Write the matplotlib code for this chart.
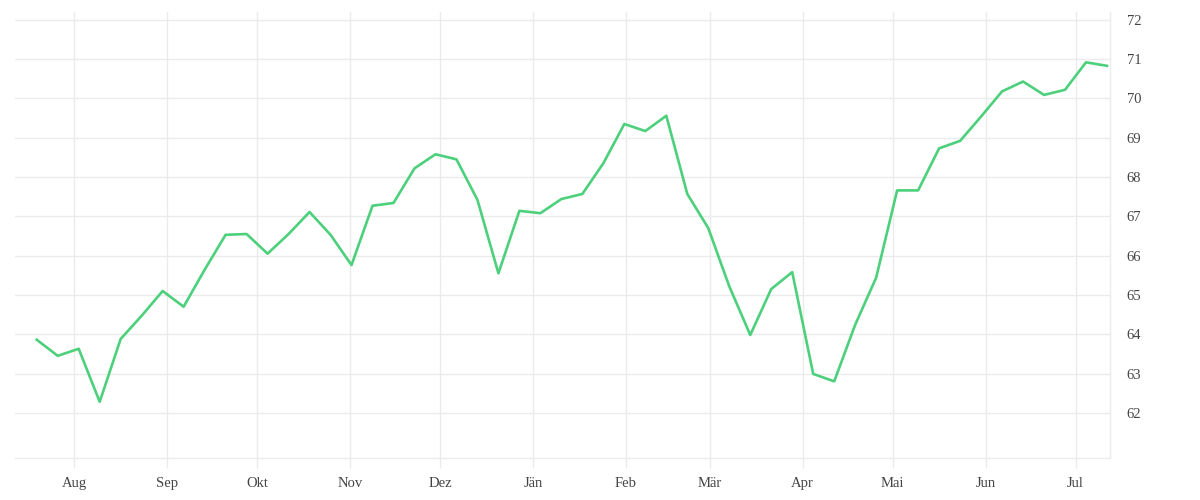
import matplotlib
matplotlib.use("Agg")
import matplotlib.pyplot as plt
import pandas as pd

# weekly values, Jul 2022 - Jul 2023
start_date = "2022-07-19 12:00"
values = [
    63.86, 63.45, 63.63, 62.28, 63.88, 64.47, 65.10, 64.70, 65.64, 66.53,
    66.55, 66.05, 66.55, 67.11, 66.53, 65.76, 67.27, 67.34, 68.22, 68.58,
    68.45, 67.42, 65.55, 67.14, 67.08, 67.44, 67.57, 68.35, 69.35, 69.17,
    69.56, 67.57, 66.70, 65.22, 63.98, 65.15, 65.58, 62.99, 62.80, 64.24,
    65.44, 67.66, 67.66, 68.73, 68.92, 69.54, 70.18, 70.43, 70.09, 70.22,
    70.92, 70.83,
]
month_labels = ["Aug", "Sep", "Okt", "Nov", "Dez", "Jän", "Feb", "Mär",
                "Apr", "Mai", "Jun", "Jul"]
y_ticks = [62, 63, 64, 65, 66, 67, 68, 69, 70, 71, 72]

dates = pd.date_range(start_date, periods=len(values), freq="7D")
month_ticks = pd.date_range("2022-08-01", periods=len(month_labels), freq="MS")

grid_c = "#ebebeb"
text_c = "#444444"
line_c = "#4cd07b"

plt.rcParams["font.family"] = ["Liberation Serif", "DejaVu Serif"]

fig = plt.figure(figsize=(12, 5), dpi=100)
ax = fig.add_axes([0.0125, 0.084, 0.9125, 0.892])

ax.plot(dates, values, color=line_c, linewidth=1.9)

ax.set_xlim(pd.Timestamp("2022-07-12 06:00"), pd.Timestamp("2023-07-12 12:00"))
ax.set_ylim(60.85, 72.2)

ax.set_xticks(month_ticks)
ax.set_xticklabels(month_labels)
ax.set_yticks(y_ticks)

ax.yaxis.tick_right()
ax.grid(True, color=grid_c, linewidth=1)
ax.set_axisbelow(True)

for side in ["left", "top"]:
    ax.spines[side].set_visible(False)
for side in ["bottom", "right"]:
    ax.spines[side].set_color(grid_c)
    ax.spines[side].set_linewidth(1)

ax.tick_params(axis="x", length=7, width=1, color=grid_c, pad=7,
               labelsize=10.5, labelcolor=text_c)
ax.tick_params(axis="y", length=0, pad=12, labelsize=10.5, labelcolor=text_c)

fig.savefig("out.png", dpi=100)
